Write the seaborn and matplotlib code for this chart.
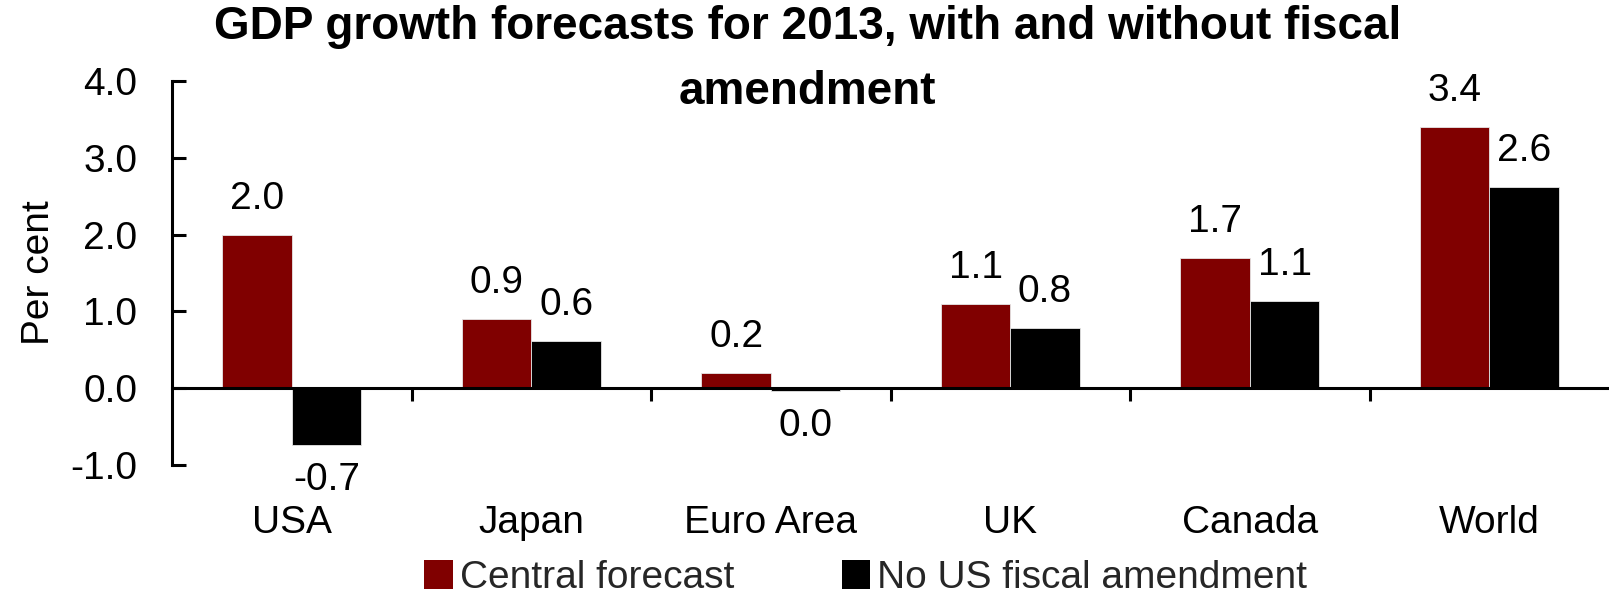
import matplotlib
matplotlib.use("Agg")
import matplotlib.pyplot as plt
from matplotlib.patches import Patch
from matplotlib.ticker import FixedLocator
import pandas as pd
import seaborn as sns

# GDP growth forecasts for 2013 (per cent)
regions = ["USA", "Japan", "Euro Area", "UK", "Canada", "World"]
central_forecast = [2.0, 0.9, 0.2, 1.1, 1.7, 3.4]
no_fiscal_amendment = [-0.74, 0.61, -0.04, 0.78, 1.14, 2.62]
series_names = ["Central forecast", "No US fiscal amendment"]
series_colors = ["#800000", "#000000"]
y_ticks = [-1.0, 0.0, 1.0, 2.0, 3.0, 4.0]

df = pd.DataFrame({
    "region": regions * 2,
    "series": [series_names[0]] * len(regions) + [series_names[1]] * len(regions),
    "value": central_forecast + no_fiscal_amendment,
})

sns.set_theme(style="white")
plt.rcParams["font.family"] = ["Liberation Sans", "DejaVu Sans"]

FS = 28

fig = plt.figure(figsize=(16.09, 5.96), dpi=100)
ax = fig.add_axes([0.107, 0.220, 0.893, 0.644])

sns.barplot(
    data=df, x="region", y="value", hue="series",
    order=regions, hue_order=series_names,
    palette=series_colors, saturation=1, width=0.58,
    edgecolor="#e6e6e6", linewidth=0.6, legend=False, ax=ax,
)

ax.set_xlim(-0.5, len(regions) - 0.5)
ax.set_ylim(-1.0, 4.0)
ax.set_yticks(y_ticks)
ax.set_yticklabels([f"{t:.1f}" for t in y_ticks])

# Axis styling: vertical axis on the left, category axis drawn along zero
for side in ["top", "right"]:
    ax.spines[side].set_visible(False)
ax.spines["left"].set_linewidth(2.2)
ax.spines["left"].set_color("black")
ax.spines["bottom"].set_position(("data", 0))
ax.spines["bottom"].set_linewidth(2.2)
ax.spines["bottom"].set_color("black")

ax.tick_params(axis="y", direction="in", length=10, width=2.2, pad=25,
               labelsize=FS, colors="black", left=True)
ax.xaxis.set_minor_locator(FixedLocator([i + 0.5 for i in range(len(regions) - 1)]))
ax.tick_params(axis="x", which="minor", direction="out", length=9, width=2.2,
               bottom=True, color="black")
ax.tick_params(axis="x", which="major", length=0, pad=84, labelsize=FS,
               colors="black")
ax.set_xlabel("")
ax.set_ylabel("Per cent", fontsize=FS, color="black")
ax.yaxis.set_label_coords(-0.080, 0.5)

# Value labels above positive bars and below negative ones
for container in ax.containers:
    for bar in container:
        h = bar.get_height()
        x = bar.get_x() + bar.get_width() / 2
        if h >= 0:
            ax.annotate(f"{h:.1f}", (x, h), xytext=(0, 13), textcoords="offset points",
                        ha="center", va="bottom", fontsize=FS, color="black")
        else:
            text = f"{abs(h):.1f}" if round(h, 1) == 0 else f"{h:.1f}"
            ax.annotate(text, (x, h), xytext=(0, -12), textcoords="offset points",
                        ha="center", va="top", fontsize=FS, color="black")

fig.text(0.502, 0.900, "GDP growth forecasts for 2013, with and without fiscal\namendment",
         ha="center", va="center", fontsize=33, fontweight="bold", linespacing=1.62,
         color="black")

handles = [Patch(facecolor=c, edgecolor="none") for c in series_colors]
fig.legend(handles, series_names, loc="center", bbox_to_anchor=(0.538, 0.030),
           ncol=2, frameon=False, fontsize=FS, handlelength=0.74, handleheight=0.74,
           handletextpad=0.18, columnspacing=2.77, borderaxespad=0)

fig.savefig("out.png", dpi=100)
